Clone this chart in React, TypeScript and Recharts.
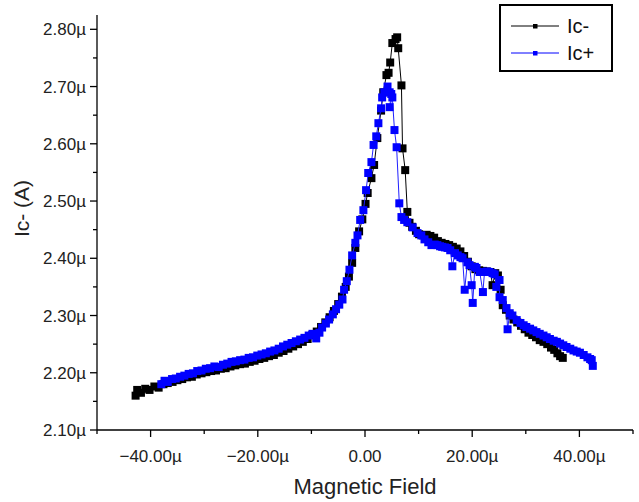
import { Legend, Scatter, ScatterChart, XAxis, YAxis, ZAxis } from 'recharts';

// Ic- sweep (black)
const icMinusField = [
  -42.8, -42.5, -41.8, -41.0, -40.2, -39.3, -38.5, -37.6, -36.8, -35.9, -35.0, -34.1, -33.2, -32.3,
  -31.4, -30.5, -29.6, -28.7, -27.8, -26.9, -26.0, -25.1, -24.2, -23.3, -22.4, -21.5, -20.6, -19.7,
  -18.8, -17.9, -17.0, -16.1, -15.2, -14.3, -13.4, -12.5, -11.6, -10.7, -9.8, -9.0, -8.2, -7.4,
  -6.6, -5.8, -5.0, -4.3, -3.6, -3.0, -2.4, -1.8, -1.1, -0.5, 0.1, 0.5, 1.2, 1.7, 2.3, 3.0, 3.4,
  4.0, 4.4, 4.7, 5.1, 5.7, 6.0, 6.2, 6.8, 7.0, 7.5, 7.9, 8.3, 8.8, 9.5, 10.1, 10.8, 11.5, 12.2,
  12.9, 13.6, 14.3, 15.0, 15.7, 16.4, 17.1, 17.8, 18.5, 19.2, 19.9, 20.6, 21.3, 22.0, 22.7, 23.4,
  23.8, 24.3, 24.8, 25.3, 25.7, 26.3, 27.0, 27.7, 28.4, 29.1, 29.8, 30.5, 31.2, 31.9, 32.6, 33.3,
  34.0, 34.7, 35.3, 35.9, 36.4, 36.9,
];
const icMinusCurrent = [
  2.160, 2.170, 2.165, 2.172, 2.170, 2.176, 2.174, 2.180, 2.182, 2.184, 2.187, 2.189, 2.192, 2.193,
  2.197, 2.199, 2.201, 2.203, 2.204, 2.207, 2.208, 2.211, 2.213, 2.215, 2.216, 2.219, 2.221, 2.224,
  2.226, 2.229, 2.231, 2.235, 2.238, 2.242, 2.246, 2.250, 2.254, 2.259, 2.266, 2.272, 2.280, 2.288,
  2.297, 2.308, 2.320, 2.333, 2.350, 2.368, 2.392, 2.418, 2.447, 2.468, 2.495, 2.514, 2.540, 2.563,
  2.610, 2.658, 2.690, 2.720, 2.724, 2.742, 2.776, 2.783, 2.786, 2.767, 2.702, 2.592, 2.554, 2.481,
  2.462, 2.455, 2.448, 2.442, 2.440, 2.441, 2.439, 2.436, 2.430, 2.427, 2.425, 2.423, 2.420, 2.417,
  2.412, 2.404, 2.394, 2.386, 2.381, 2.379, 2.378, 2.377, 2.376, 2.353, 2.374, 2.370, 2.345, 2.318,
  2.310, 2.300, 2.293, 2.288, 2.282, 2.276, 2.270, 2.266, 2.262, 2.257, 2.254, 2.250, 2.244, 2.240,
  2.234, 2.229, 2.226,
];

// Ic+ sweep (blue)
const icPlusField = [
  -38.0, -37.4, -36.8, -36.0, -35.3, -34.5, -33.7, -32.9, -32.1, -31.3, -30.5, -29.7, -28.9, -28.1,
  -27.3, -26.5, -25.7, -24.9, -24.1, -23.3, -22.5, -21.7, -20.9, -20.1, -19.3, -18.5, -17.7, -16.9,
  -16.1, -15.3, -14.5, -13.7, -12.9, -12.1, -11.3, -10.5, -9.8, -9.1, -8.5, -8.0, -7.3, -6.7, -6.0,
  -5.4, -4.8, -4.2, -3.9, -3.4, -2.9, -2.4, -1.8, -1.4, -0.9, -0.3, 0.2, 0.6, 1.2, 1.6, 2.1, 2.5,
  3.0, 3.2, 3.6, 4.2, 4.6, 4.9, 4.6, 5.1, 5.5, 5.9, 6.4, 6.8, 7.3, 7.9, 8.9, 9.8, 10.5, 11.1, 11.8,
  12.4, 13.0, 13.5, 14.0, 14.4, 14.9, 15.4, 15.9, 16.3, 16.8, 17.3, 17.8, 18.2, 18.6, 19.1, 19.5,
  19.9, 20.1, 20.5, 20.8, 21.4, 22.0, 22.3, 22.8, 23.2, 23.8, 24.2, 24.5, 25.1, 25.1, 25.7, 26.4,
  26.6, 27.0, 27.5, 28.3, 29.0, 29.6, 30.1, 30.8, 31.4, 32.0, 32.6, 33.3, 33.9, 34.5, 35.2, 35.8,
  36.4, 37.0, 37.6, 38.3, 38.9, 39.5, 40.1, 40.8, 41.5, 42.0, 42.3, 42.5,
];
const icPlusCurrent = [
  2.180, 2.186, 2.184, 2.189, 2.190, 2.193, 2.195, 2.198, 2.199, 2.203, 2.204, 2.207, 2.208, 2.211,
  2.210, 2.214, 2.216, 2.219, 2.220, 2.222, 2.223, 2.226, 2.227, 2.230, 2.232, 2.234, 2.237, 2.239,
  2.242, 2.246, 2.249, 2.252, 2.255, 2.258, 2.261, 2.265, 2.268, 2.260, 2.270, 2.279, 2.286, 2.293,
  2.302, 2.311, 2.319, 2.328, 2.345, 2.360, 2.380, 2.405, 2.427, 2.440, 2.467, 2.484, 2.519, 2.549,
  2.568, 2.598, 2.613, 2.636, 2.662, 2.681, 2.690, 2.700, 2.690, 2.687, 2.664, 2.681, 2.624, 2.594,
  2.496, 2.472, 2.467, 2.463, 2.454, 2.444, 2.440, 2.433, 2.428, 2.423, 2.424, 2.423, 2.421, 2.420,
  2.419, 2.418, 2.414, 2.386, 2.409, 2.405, 2.402, 2.400, 2.345, 2.393, 2.388, 2.353, 2.322, 2.385,
  2.383, 2.376, 2.341, 2.376, 2.377, 2.376, 2.374, 2.372, 2.350, 2.362, 2.332, 2.327, 2.313, 2.276,
  2.304, 2.300, 2.292, 2.287, 2.283, 2.280, 2.277, 2.274, 2.271, 2.268, 2.265, 2.262, 2.259, 2.256,
  2.254, 2.251, 2.248, 2.245, 2.242, 2.239, 2.237, 2.235, 2.231, 2.227, 2.224, 2.222, 2.212,
];

const xTicks = [-50, -40, -30, -20, -10, 0, 10, 20, 30, 40, 50];
const xLabelled = [-40, -20, 0, 20, 40];
const yTicks = [2.1, 2.15, 2.2, 2.25, 2.3, 2.35, 2.4, 2.45, 2.5, 2.55, 2.6, 2.65, 2.7, 2.75, 2.8];

const minusData = icMinusField.map((x, i) => ({ x, y: icMinusCurrent[i] }));
const plusData = icPlusField.map((x, i) => ({ x, y: icPlusCurrent[i] }));

const FONT = '"Liberation Sans", Arial, sans-serif';

const fmtX = (v: number) => (v === 0 ? '0.00' : (v < 0 ? '\u2212' : '') + Math.abs(v).toFixed(2) + 'µ');

const XTick = (props: any) => {
  const { x, y, payload } = props;
  const major = xLabelled.includes(payload.value);
  return (
    <g>
      <line x1={x} x2={x} y1={y} y2={y + (major ? 7 : 4)} stroke="#000" strokeWidth={1.3} />
      {major && (
        <text x={x} y={y + 32} textAnchor="middle" fontSize={17} fontFamily={FONT} fill="#222">
          {fmtX(payload.value)}
        </text>
      )}
    </g>
  );
};

const YTick = (props: any) => {
  const { x, y, payload } = props;
  const major = Math.round(payload.value * 100) % 10 === 0;
  return (
    <g>
      <line x1={x - (major ? 7 : 4)} x2={x} y1={y} y2={y} stroke="#000" strokeWidth={1.3} />
      {major && (
        <text x={x - 11} y={y + 6} textAnchor="end" fontSize={17} fontFamily={FONT} fill="#222">
          {payload.value.toFixed(2) + 'µ'}
        </text>
      )}
    </g>
  );
};

const LegendBox = () => (
  <svg width={114} height={68}>
    <rect x={1} y={1} width={112} height={66} fill="#fff" stroke="#000" strokeWidth={2} />
    <line x1={12} x2={60} y1={22} y2={22} stroke="#000" strokeWidth={1} />
    <rect x={34} y={20} width={4.5} height={4.5} fill="#000" />
    <text x={68} y={29} fontSize={20} fontFamily={FONT} fill="#111">Ic-</text>
    <line x1={12} x2={60} y1={49} y2={49} stroke="#0000ff" strokeWidth={1} />
    <rect x={34} y={47} width={4.5} height={4.5} fill="#0000ff" />
    <text x={68} y={56} fontSize={20} fontFamily={FONT} fill="#111">Ic+</text>
  </svg>
);

const App: React.FunctionComponent = () => {
  return (
    <div style={{ position: 'absolute', left: 0, top: 0 }}>
      <ScatterChart width={639} height={502} margin={{ top: 15, right: 6, bottom: 0, left: 0 }}>
        <XAxis
          type="number"
          dataKey="x"
          domain={[-50, 50]}
          ticks={xTicks}
          interval={0}
          tickSize={0}
          tickMargin={0}
          tickLine={false}
          tick={<XTick />}
          height={72}
          axisLine={{ stroke: '#000', strokeWidth: 1.3 }}
          allowDataOverflow
          label={{
            content: ({ viewBox }: any) => (
              <text
                x={viewBox.x + viewBox.width / 2}
                y={viewBox.y + 64}
                textAnchor="middle"
                fontSize={22}
                fontFamily={FONT}
                fill="#222"
              >
                Magnetic Field
              </text>
            ),
          }}
        />
        <YAxis
          type="number"
          dataKey="y"
          domain={[2.1, 2.825]}
          ticks={yTicks}
          interval={0}
          tickSize={0}
          tickMargin={0}
          tickLine={false}
          tick={<YTick />}
          width={97}
          axisLine={{ stroke: '#000', strokeWidth: 1.3 }}
          allowDataOverflow
          label={{
            content: ({ viewBox }: any) => (
              <text
                transform={`translate(${viewBox.x + 21}, ${viewBox.y + viewBox.height / 2 - 14}) rotate(-90)`}
                textAnchor="middle"
                dominantBaseline="central"
                fontSize={21}
                fontFamily={FONT}
                fill="#222"
              >
                Ic- (A)
              </text>
            ),
          }}
        />
        <ZAxis range={[22, 22]} />
        <Legend
          layout="vertical"
          align="center"
          verticalAlign="middle"
          content={<LegendBox />}
          wrapperStyle={{ left: 499, top: 4, width: 114, height: 68 }}
        />
        <Scatter
          name="Ic-"
          data={minusData}
          fill="#000"
          shape="square"
          line={{ stroke: '#000', strokeWidth: 1 }}
          lineType="joint"
          isAnimationActive={false}
        />
        <Scatter
          name="Ic+"
          data={plusData}
          fill="#0000ff"
          shape="square"
          line={{ stroke: '#2020ff', strokeWidth: 1 }}
          lineType="joint"
          isAnimationActive={false}
        />
      </ScatterChart>
    </div>
  );
};

export default App;
